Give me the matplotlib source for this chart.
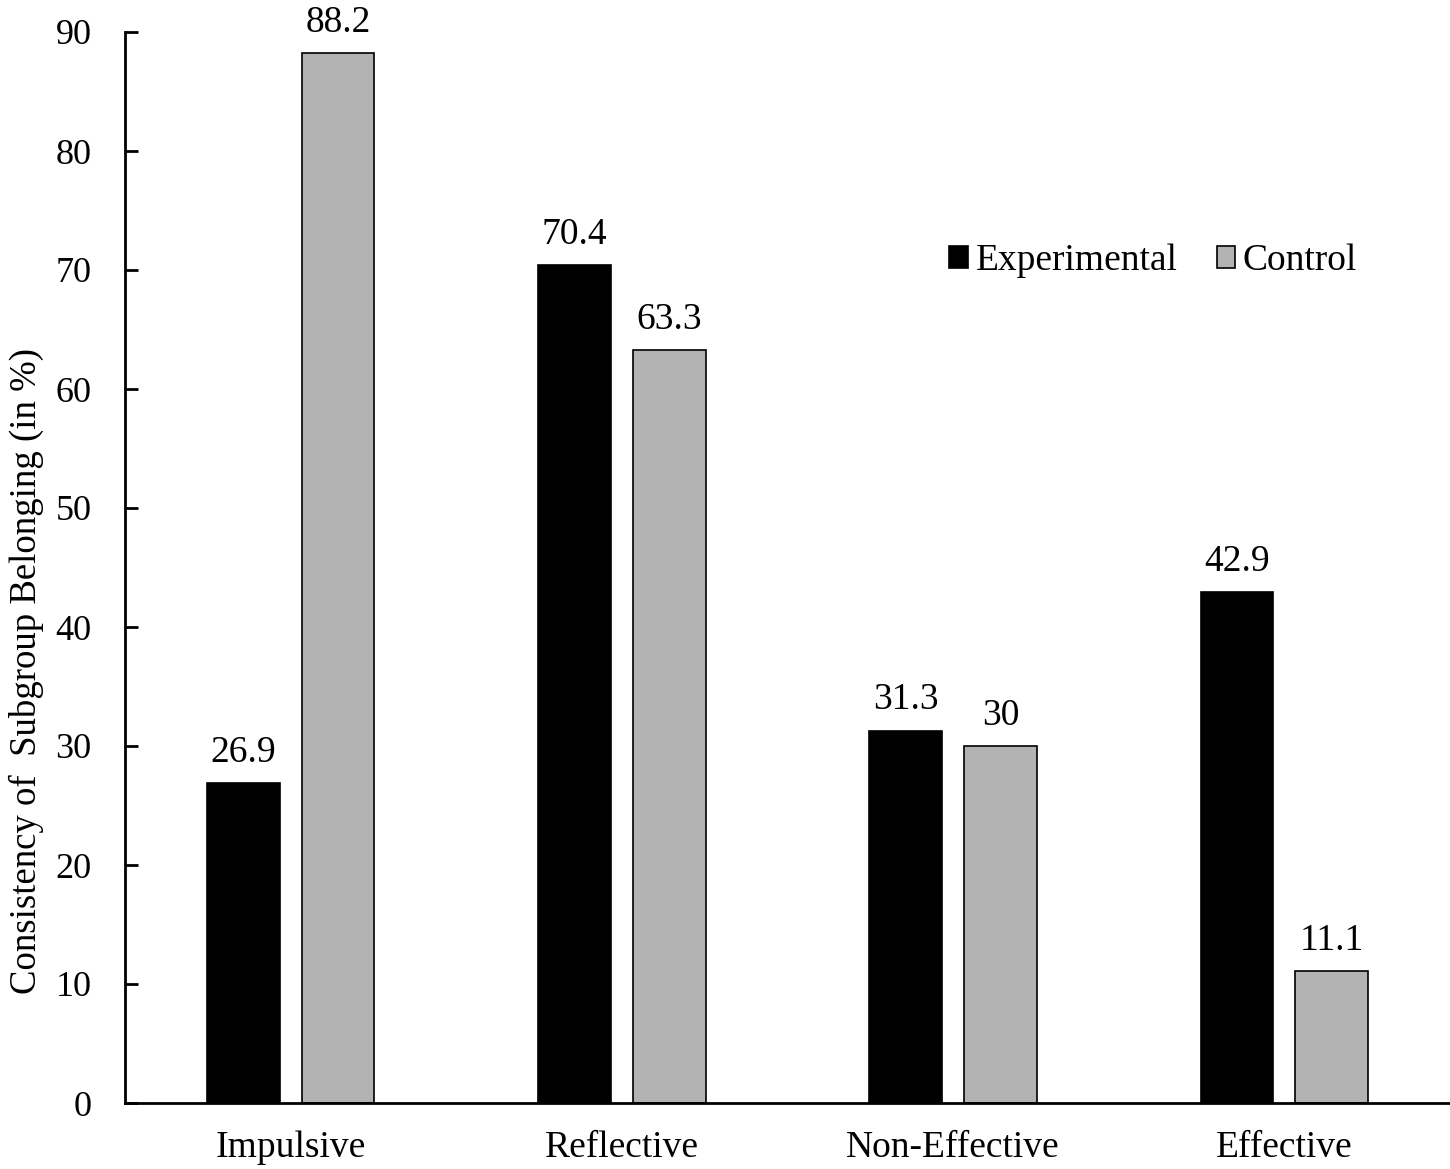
import matplotlib.pyplot as plt
import numpy as np

plt.rcParams['font.family'] = ['Liberation Serif', 'DejaVu Serif']

categories = ['Impulsive', 'Reflective', 'Non-Effective', 'Effective']
experimental = [26.9, 70.4, 31.3, 42.9]
control = [88.2, 63.3, 30, 11.1]
exp_labels = ['26.9', '70.4', '31.3', '42.9']
ctl_labels = ['88.2', '63.3', '30', '11.1']

fig = plt.figure(figsize=(14.5, 11.69), dpi=100)
ax = fig.add_axes([125 / 1450, 1 - 1103 / 1169, 1325 / 1450, (1103 - 32) / 1169])

x = np.arange(len(categories))
w = 0.22
b1 = ax.bar(x - 0.143, experimental, w, color='black', edgecolor='black', linewidth=1.2, label='Experimental')
b2 = ax.bar(x + 0.143, control, w, color='#b3b3b3', edgecolor='black', linewidth=1.2, label='Control')

# value labels above bars
for bars, labs in ((b1, exp_labels), (b2, ctl_labels)):
    for bar, lab in zip(bars, labs):
        ax.text(bar.get_x() + bar.get_width() / 2, bar.get_height() + 1.1, lab,
                ha='center', va='bottom', fontsize=27, clip_on=False)

ax.set_xlim(-0.5, 3.5)
ax.set_ylim(0, 90)
ax.set_yticks(range(0, 91, 10))
ax.set_xticks(x)
ax.set_xticklabels(categories, fontsize=27)
ax.tick_params(axis='y', direction='in', length=9, width=2, labelsize=26, pad=24)
ax.tick_params(axis='x', length=0, pad=20)
for s in ('top', 'right'):
    ax.spines[s].set_visible(False)
for s in ('left', 'bottom'):
    ax.spines[s].set_linewidth(2)

ax.set_ylabel('Consistency of  Subgroup Belonging (in %)', fontsize=26.5)
ax.yaxis.set_label_coords(-0.061, 0.403)

ax.legend(loc='center left', bbox_to_anchor=(0.622, 0.786), ncol=2, frameon=False,
          fontsize=27, handlelength=0.5, handleheight=0.5, handletextpad=0.2,
          columnspacing=1.05, borderpad=0, borderaxespad=0)

fig.savefig('out.png', dpi=100)
